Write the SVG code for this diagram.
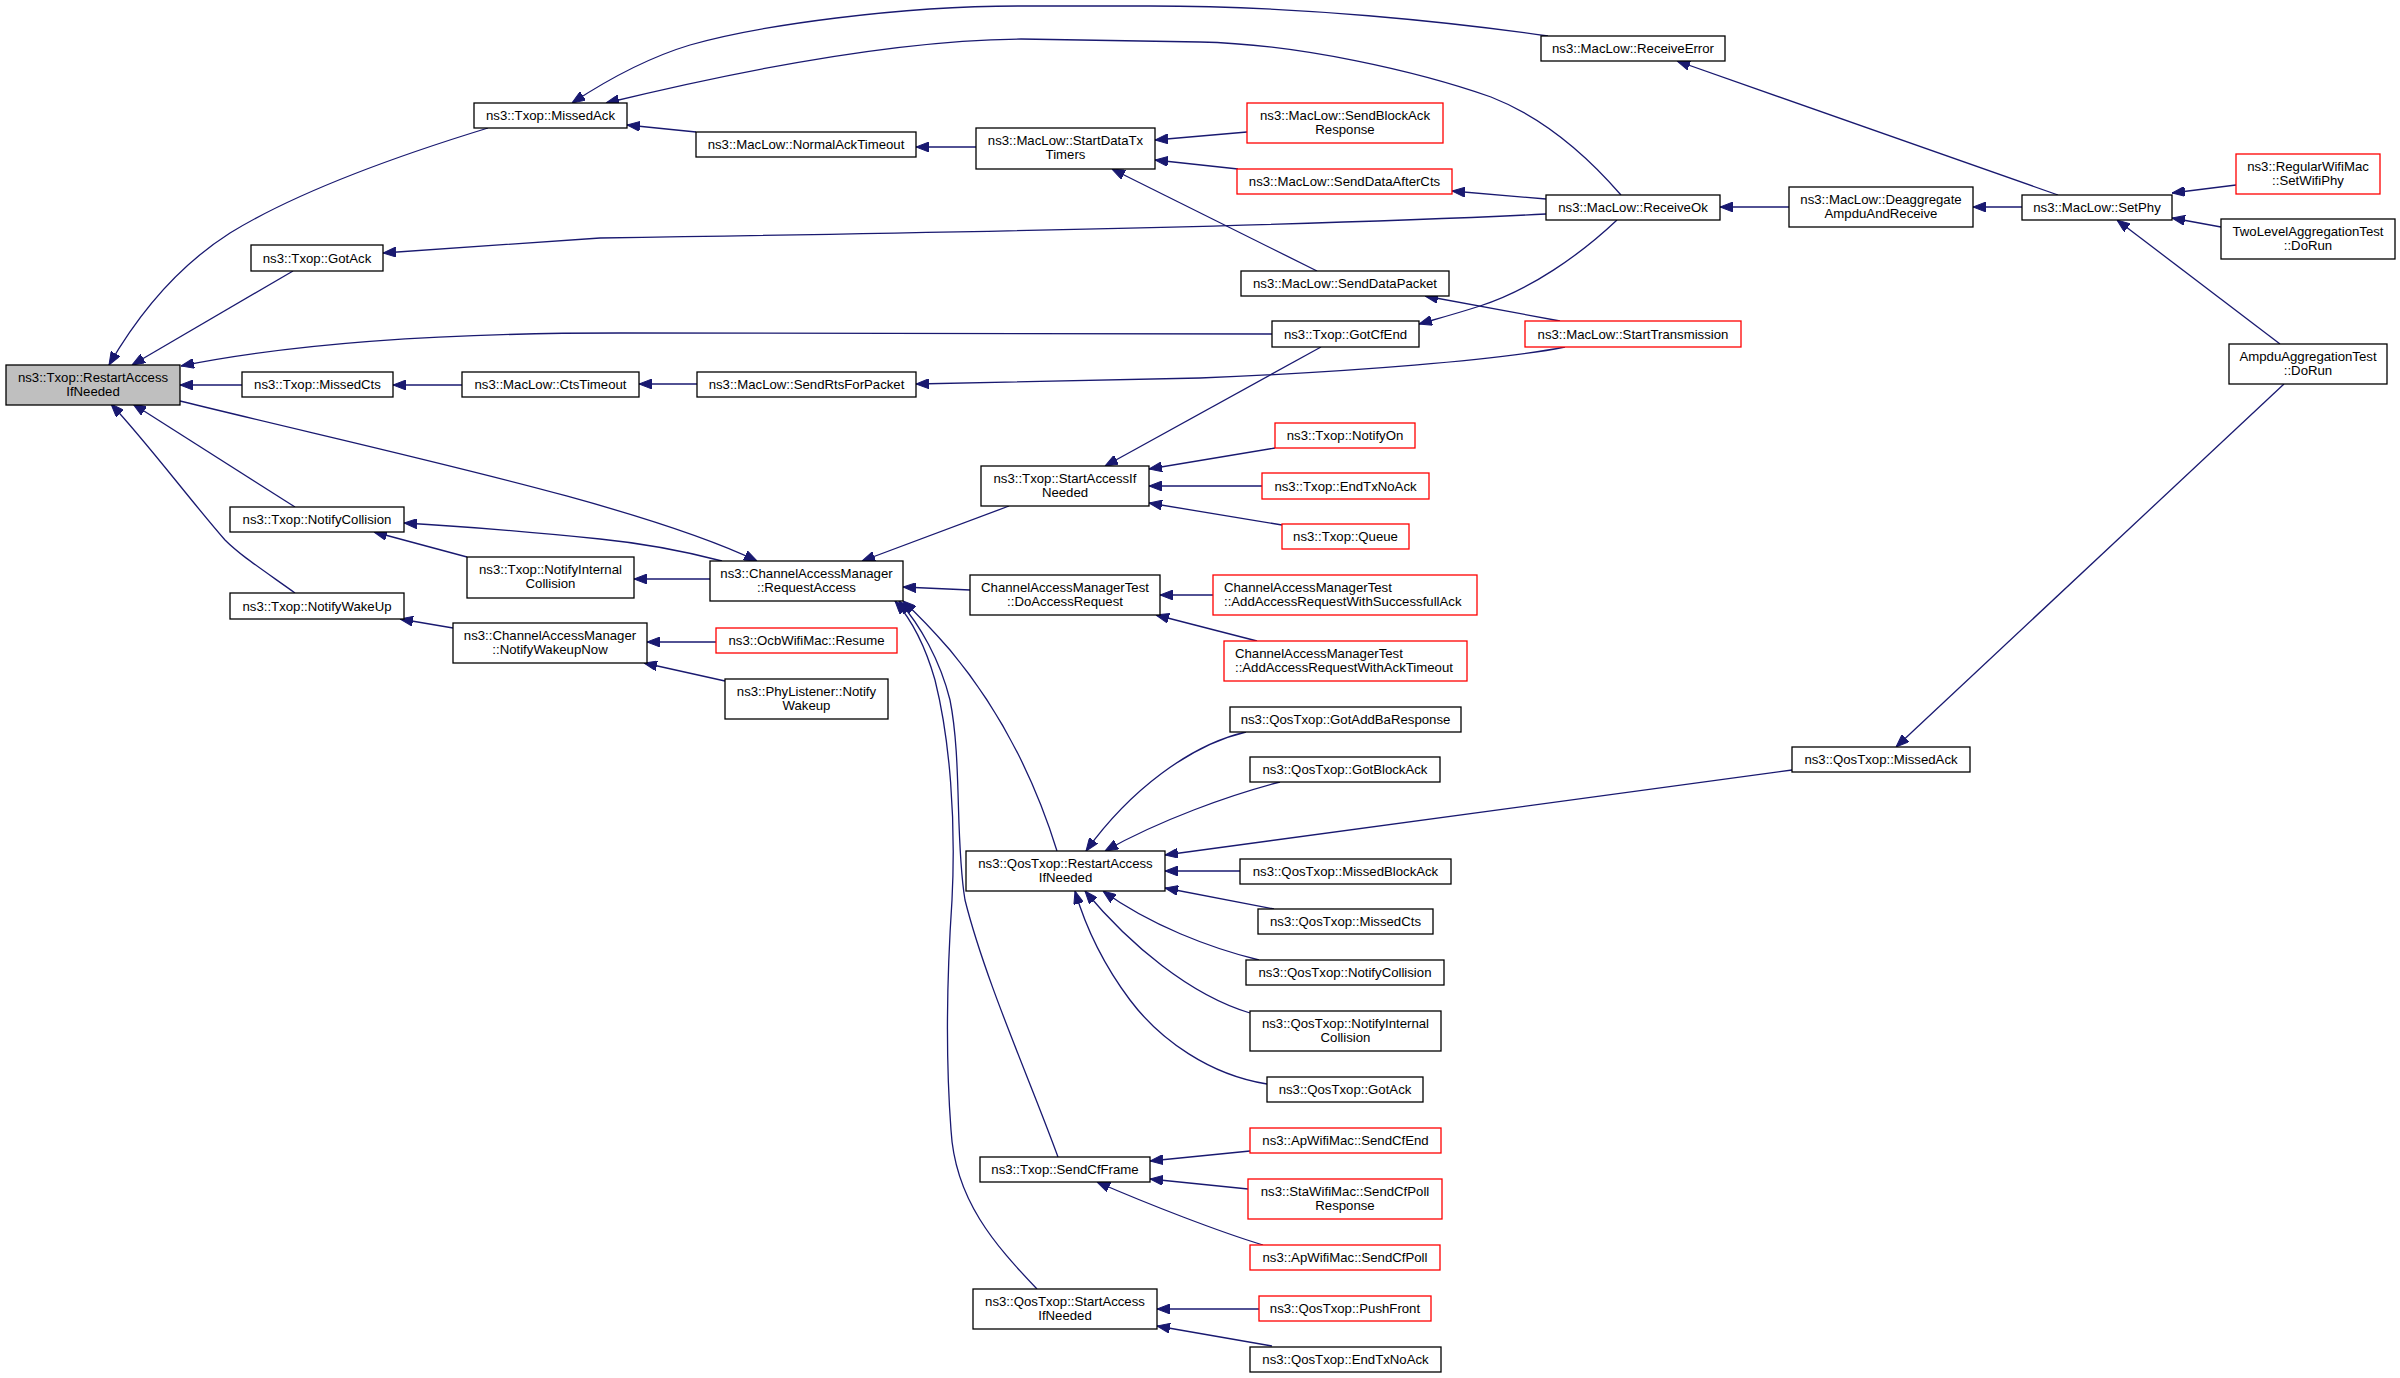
<svg xmlns="http://www.w3.org/2000/svg" width="2400" height="1378" viewBox="0 0 2400 1378">
<defs>
<marker id="ah" viewBox="0 0 13 10" refX="13" refY="5" markerWidth="13" markerHeight="10" orient="auto" markerUnits="userSpaceOnUse">
<path d="M0,0 L13,5 L0,10 z" fill="#191970" stroke="#191970" stroke-width="1"/>
</marker>
<style>
.node rect{fill:#ffffff;stroke:#000000;stroke-width:1.3}
.red rect{stroke:#ff0000}
.root rect{fill:#bfbfbf}
text{font-family:"Liberation Sans",Arial,Helvetica,sans-serif;font-size:13.2px;fill:#000000;text-anchor:middle}
text.l{text-anchor:start}
#edges path{fill:none;stroke:#191970;stroke-width:1.3;marker-end:url(#ah)}
</style>
</defs>
<rect x="0" y="0" width="2400" height="1378" fill="#ffffff"/>
<g id="edges">
<path id="e1" d="M488,128 C400,155 300,190 230,233 C175,268 135,320 109,365"/>
<path id="e2" d="M293,271 L132,365"/>
<path id="e3" d="M1272,334 L620,333 C450,333 300,342 181,366"/>
<path id="e4" d="M242,385 L180,385"/>
<path id="e5" d="M180,401 C400,455 640,505 757,561"/>
<path id="e6" d="M295,507 L133,404"/>
<path id="e7" d="M295,593 C260,568 240,555 225,540 C190,500 145,440 111,404"/>
<path id="e8" d="M462,385 L393,385"/>
<path id="e9" d="M696,132 L627,125"/>
<path id="e10" d="M1548,36 C1450,22 1300,6 1150,6 L1021,6 C900,6 760,25 690,45 C650,57 610,78 572,103"/>
<path id="e11" d="M1621,195 C1595,165 1550,120 1491,97 C1420,72 1300,44 1200,42 L1021,39 C900,40 750,68 606,103"/>
<path id="e12" d="M1546,214 C1350,224 1000,232 600,238 L383,253"/>
<path id="e13" d="M976,147 L916,147"/>
<path id="e14" d="M1247,132 L1155,140"/>
<path id="e15" d="M1238,169 L1155,160"/>
<path id="e16" d="M1317,271 L1112,169"/>
<path id="e17" d="M1546,199 L1452,191"/>
<path id="e18" d="M1617,220 C1580,255 1530,290 1480,306 C1455,314 1440,318 1419,324"/>
<path id="e19" d="M1560,321 L1425,296"/>
<path id="e20" d="M1565,347 C1500,360 1350,372 1200,378 L916,384"/>
<path id="e21" d="M1789,207 L1720,207"/>
<path id="e22" d="M2022,207 L1973,207"/>
<path id="e23" d="M2058,195 L1677,61"/>
<path id="e24" d="M2236,185 L2172,193"/>
<path id="e25" d="M2221,227 L2172,218"/>
<path id="e26" d="M2280,344 L2117,220"/>
<path id="e27" d="M2284,384 L1896,747"/>
<path id="e28" d="M697,384 L639,384"/>
<path id="e29" d="M467,557 L374,532"/>
<path id="e30" d="M722,561 C680,550 640,543 600,539 C520,531 460,526 404,523"/>
<path id="e31" d="M710,579 L634,579"/>
<path id="e32" d="M453,628 L400,619"/>
<path id="e33" d="M716,642 L647,642"/>
<path id="e34" d="M725,681 L644,663"/>
<path id="e35" d="M1009,506 L862,561"/>
<path id="e36" d="M970,590 L903,587"/>
<path id="e37" d="M1057,851 C1035,780 1000,710 950,650 C930,627 915,612 903,601"/>
<path id="e38" d="M1058,1157 C1030,1080 985,980 965,900 C955,840 962,760 950,700 C940,660 920,625 899,601"/>
<path id="e39" d="M1037,1289 C995,1245 955,1200 951,1130 C945,1050 948,960 952,900 C956,820 950,740 935,680 C925,645 912,620 895,601"/>
<path id="e40" d="M1246,732 C1190,745 1130,790 1086,851"/>
<path id="e41" d="M1280,782 C1230,795 1160,820 1105,851"/>
<path id="e42" d="M1792,770 L1165,855"/>
<path id="e43" d="M1240,871 L1165,871"/>
<path id="e44" d="M1274,909 L1165,888"/>
<path id="e45" d="M1259,960 C1210,948 1150,925 1103,891"/>
<path id="e46" d="M1250,1013 C1190,995 1130,945 1085,891"/>
<path id="e47" d="M1267,1084 C1210,1075 1160,1040 1130,1000 C1100,960 1085,925 1075,891"/>
<path id="e48" d="M1275,448 L1149,469"/>
<path id="e49" d="M1262,486 L1149,486"/>
<path id="e50" d="M1282,525 L1149,503"/>
<path id="e51" d="M1321,347 L1105,466"/>
<path id="e52" d="M1213,595 L1160,595"/>
<path id="e53" d="M1257,641 L1156,615"/>
<path id="e54" d="M1250,1151 L1150,1161"/>
<path id="e55" d="M1248,1189 L1150,1179"/>
<path id="e56" d="M1263,1245 C1220,1232 1150,1205 1097,1182"/>
<path id="e57" d="M1259,1309 L1157,1309"/>
<path id="e58" d="M1272,1346 L1157,1326"/>
</g>
<g id="n_restart" class="node root"><rect x="6" y="365" width="174" height="40"/><text x="93" y="382">ns3::Txop::RestartAccess</text><text x="93" y="396">IfNeeded</text></g>
<g id="n_missedack" class="node"><rect x="474" y="103" width="153" height="25"/><text x="550.5" y="120">ns3::Txop::MissedAck</text></g>
<g id="n_gotack" class="node"><rect x="251" y="245" width="132" height="26"/><text x="317" y="262.5">ns3::Txop::GotAck</text></g>
<g id="n_missedcts" class="node"><rect x="242" y="372" width="151" height="25"/><text x="317.5" y="389">ns3::Txop::MissedCts</text></g>
<g id="n_notifycollision" class="node"><rect x="230" y="507" width="174" height="25"/><text x="317" y="524">ns3::Txop::NotifyCollision</text></g>
<g id="n_notifywakeup" class="node"><rect x="230" y="593" width="174" height="26"/><text x="317" y="610.5">ns3::Txop::NotifyWakeUp</text></g>
<g id="n_normalacktimeout" class="node"><rect x="696" y="132" width="220" height="25"/><text x="806" y="149">ns3::MacLow::NormalAckTimeout</text></g>
<g id="n_ctstimeout" class="node"><rect x="462" y="372" width="177" height="25"/><text x="550.5" y="389">ns3::MacLow::CtsTimeout</text></g>
<g id="n_notifyinternal" class="node"><rect x="467" y="557" width="167" height="41"/><text x="550.5" y="574">ns3::Txop::NotifyInternal</text><text x="550.5" y="588">Collision</text></g>
<g id="n_notifywakeupnow" class="node"><rect x="453" y="623" width="194" height="40"/><text x="550" y="640">ns3::ChannelAccessManager</text><text x="550" y="654">::NotifyWakeupNow</text></g>
<g id="n_startdatatx" class="node"><rect x="976" y="128" width="179" height="41"/><text x="1065.5" y="145">ns3::MacLow::StartDataTx</text><text x="1065.5" y="159">Timers</text></g>
<g id="n_sendrts" class="node"><rect x="697" y="372" width="219" height="25"/><text x="806.5" y="389">ns3::MacLow::SendRtsForPacket</text></g>
<g id="n_requestaccess" class="node"><rect x="710" y="561" width="193" height="40"/><text x="806.5" y="578">ns3::ChannelAccessManager</text><text x="806.5" y="592">::RequestAccess</text></g>
<g id="n_ocbresume" class="node red"><rect x="716" y="628" width="181" height="25"/><text x="806.5" y="645">ns3::OcbWifiMac::Resume</text></g>
<g id="n_phylistener" class="node"><rect x="725" y="679" width="163" height="40"/><text x="806.5" y="696">ns3::PhyListener::Notify</text><text x="806.5" y="710">Wakeup</text></g>
<g id="n_receiveerror" class="node"><rect x="1541" y="36" width="184" height="25"/><text x="1633" y="53">ns3::MacLow::ReceiveError</text></g>
<g id="n_sendblockack" class="node red"><rect x="1247" y="103" width="196" height="40"/><text x="1345" y="120">ns3::MacLow::SendBlockAck</text><text x="1345" y="134">Response</text></g>
<g id="n_senddataaftercts" class="node red"><rect x="1237" y="169" width="215" height="25"/><text x="1344.5" y="186">ns3::MacLow::SendDataAfterCts</text></g>
<g id="n_receiveok" class="node"><rect x="1546" y="195" width="174" height="25"/><text x="1633" y="212">ns3::MacLow::ReceiveOk</text></g>
<g id="n_senddatapacket" class="node"><rect x="1241" y="271" width="208" height="25"/><text x="1345" y="288">ns3::MacLow::SendDataPacket</text></g>
<g id="n_gotcfend" class="node"><rect x="1272" y="321" width="147" height="26"/><text x="1345.5" y="338.5">ns3::Txop::GotCfEnd</text></g>
<g id="n_starttransmission" class="node red"><rect x="1525" y="321" width="216" height="26"/><text x="1633" y="338.5">ns3::MacLow::StartTransmission</text></g>
<g id="n_startaccess" class="node"><rect x="981" y="466" width="168" height="40"/><text x="1065" y="483">ns3::Txop::StartAccessIf</text><text x="1065" y="497">Needed</text></g>
<g id="n_notifyon" class="node red"><rect x="1275" y="423" width="140" height="25"/><text x="1345" y="440">ns3::Txop::NotifyOn</text></g>
<g id="n_endtxnoack" class="node red"><rect x="1262" y="473" width="167" height="26"/><text x="1345.5" y="490.5">ns3::Txop::EndTxNoAck</text></g>
<g id="n_queue" class="node red"><rect x="1282" y="524" width="127" height="25"/><text x="1345.5" y="541">ns3::Txop::Queue</text></g>
<g id="n_doaccessrequest" class="node"><rect x="970" y="575" width="190" height="40"/><text x="1065" y="592">ChannelAccessManagerTest</text><text x="1065" y="606">::DoAccessRequest</text></g>
<g id="n_addsuccess" class="node red"><rect x="1213" y="575" width="264" height="40"/><text class="l" x="1224" y="592">ChannelAccessManagerTest</text><text class="l" x="1224" y="606">::AddAccessRequestWithSuccessfullAck</text></g>
<g id="n_addtimeout" class="node red"><rect x="1224" y="641" width="243" height="40"/><text class="l" x="1235" y="658">ChannelAccessManagerTest</text><text class="l" x="1235" y="672">::AddAccessRequestWithAckTimeout</text></g>
<g id="n_deaggregate" class="node"><rect x="1789" y="187" width="184" height="40"/><text x="1881" y="204">ns3::MacLow::Deaggregate</text><text x="1881" y="218">AmpduAndReceive</text></g>
<g id="n_setphy" class="node"><rect x="2022" y="195" width="150" height="25"/><text x="2097" y="212">ns3::MacLow::SetPhy</text></g>
<g id="n_regularwifimac" class="node red"><rect x="2236" y="154" width="144" height="40"/><text x="2308" y="171">ns3::RegularWifiMac</text><text x="2308" y="185">::SetWifiPhy</text></g>
<g id="n_twolevel" class="node"><rect x="2221" y="219" width="174" height="40"/><text x="2308" y="236">TwoLevelAggregationTest</text><text x="2308" y="250">::DoRun</text></g>
<g id="n_ampdu" class="node"><rect x="2229" y="344" width="158" height="40"/><text x="2308" y="361">AmpduAggregationTest</text><text x="2308" y="375">::DoRun</text></g>
<g id="n_qosmissedack" class="node"><rect x="1792" y="747" width="178" height="25"/><text x="1881" y="764">ns3::QosTxop::MissedAck</text></g>
<g id="n_qosrestart" class="node"><rect x="966" y="851" width="199" height="40"/><text x="1065.5" y="868">ns3::QosTxop::RestartAccess</text><text x="1065.5" y="882">IfNeeded</text></g>
<g id="n_qosgotaddba" class="node"><rect x="1230" y="707" width="231" height="25"/><text x="1345.5" y="724">ns3::QosTxop::GotAddBaResponse</text></g>
<g id="n_qosgotblockack" class="node"><rect x="1250" y="757" width="190" height="25"/><text x="1345" y="774">ns3::QosTxop::GotBlockAck</text></g>
<g id="n_qosmissedblockack" class="node"><rect x="1240" y="859" width="211" height="25"/><text x="1345.5" y="876">ns3::QosTxop::MissedBlockAck</text></g>
<g id="n_qosmissedcts" class="node"><rect x="1258" y="909" width="175" height="25"/><text x="1345.5" y="926">ns3::QosTxop::MissedCts</text></g>
<g id="n_qosnotifycollision" class="node"><rect x="1246" y="960" width="198" height="25"/><text x="1345" y="977">ns3::QosTxop::NotifyCollision</text></g>
<g id="n_qosnotifyinternal" class="node"><rect x="1250" y="1011" width="191" height="40"/><text x="1345.5" y="1028">ns3::QosTxop::NotifyInternal</text><text x="1345.5" y="1042">Collision</text></g>
<g id="n_qosgotack" class="node"><rect x="1267" y="1077" width="156" height="25"/><text x="1345" y="1094">ns3::QosTxop::GotAck</text></g>
<g id="n_apsendcfend" class="node red"><rect x="1250" y="1128" width="191" height="25"/><text x="1345.5" y="1145">ns3::ApWifiMac::SendCfEnd</text></g>
<g id="n_sendcfframe" class="node"><rect x="980" y="1157" width="170" height="25"/><text x="1065" y="1174">ns3::Txop::SendCfFrame</text></g>
<g id="n_stasendcfpoll" class="node red"><rect x="1248" y="1179" width="194" height="40"/><text x="1345" y="1196">ns3::StaWifiMac::SendCfPoll</text><text x="1345" y="1210">Response</text></g>
<g id="n_apsendcfpoll" class="node red"><rect x="1250" y="1245" width="190" height="25"/><text x="1345" y="1262">ns3::ApWifiMac::SendCfPoll</text></g>
<g id="n_qosstartaccess" class="node"><rect x="973" y="1289" width="184" height="40"/><text x="1065" y="1306">ns3::QosTxop::StartAccess</text><text x="1065" y="1320">IfNeeded</text></g>
<g id="n_qospushfront" class="node red"><rect x="1259" y="1296" width="172" height="25"/><text x="1345" y="1313">ns3::QosTxop::PushFront</text></g>
<g id="n_qosendtxnoack" class="node"><rect x="1250" y="1347" width="191" height="25"/><text x="1345.5" y="1364">ns3::QosTxop::EndTxNoAck</text></g>
</svg>
